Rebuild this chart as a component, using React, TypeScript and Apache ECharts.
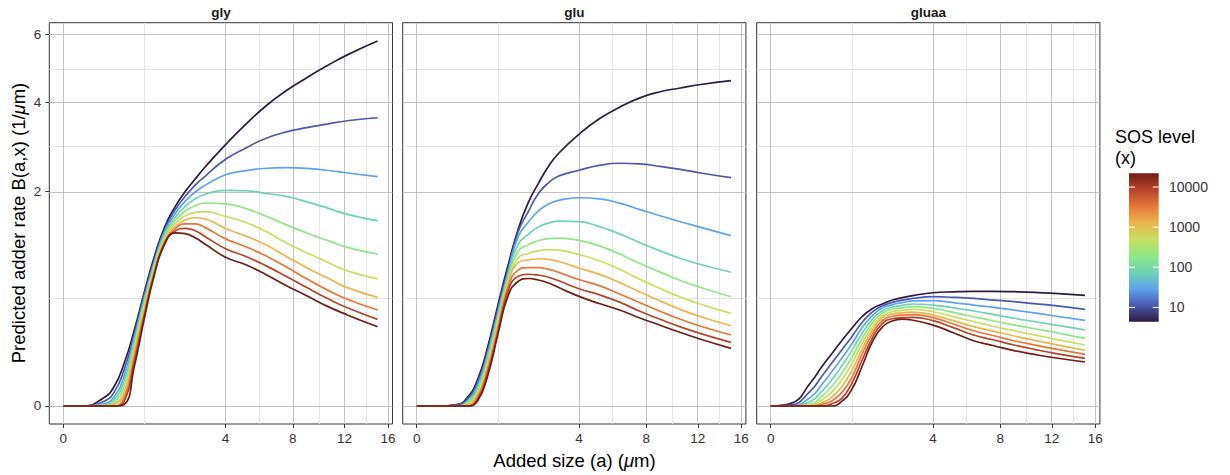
import React, { useEffect, useRef } from "react";
import * as echarts from "echarts";

const FONT = "'Liberation Sans', Arial, Helvetica, sans-serif";

const panelNames = ["gly", "glu", "gluaa"];
const addedSize = [0, 0.0625, 0.25, 0.390625, 0.5625, 0.765625, 1, 1.265625, 1.5625, 1.890625, 2.25, 2.640625, 3.0625, 4, 5.0625, 6.25, 7.5625, 9, 10.5625, 12.25, 15];
const sosLevels = [4.4, 11.3, 29.2, 75.3, 194, 500, 1290, 3320, 8560, 22000];
const curveColors = ["#2f1a40", "#4a5aad", "#5ea3ef", "#6fd3b0", "#8fe785", "#c8df60", "#ebb44c", "#e6763a", "#b5442a", "#701d14"];

const glyRates = [
  [0, 0, 0.003, 0.0161, 0.079, 0.25, 0.567, 0.98, 1.395, 1.716, 1.991, 2.235, 2.484, 2.9653, 3.4484, 3.9125, 4.3181, 4.6786, 5.0221, 5.35, 5.779],
  [0, 0, 0.0009, 0.0081, 0.0576, 0.2256, 0.54, 0.941, 1.357, 1.664, 1.904, 2.117, 2.295, 2.6406, 2.89, 3.1117, 3.2616, 3.3636, 3.4484, 3.5306, 3.6062],
  [0, 0, 0.0002, 0.0036, 0.04, 0.2025, 0.511, 0.912, 1.3225, 1.6, 1.817, 1.988, 2.117, 2.3195, 2.4025, 2.4524, 2.4649, 2.4492, 2.4118, 2.3562, 2.2831],
  [0, 0, 0.00005, 0.0016, 0.0272, 0.1806, 0.483, 0.8836, 1.288, 1.5376, 1.729, 1.863, 1.946, 2.0192, 2.0107, 1.96, 1.9044, 1.809, 1.703, 1.5926, 1.4884],
  [0, 0, 0.00001, 0.0006, 0.0169, 0.16, 0.4556, 0.8556, 1.2544, 1.4884, 1.646, 1.742, 1.788, 1.7742, 1.69, 1.5625, 1.4232, 1.2996, 1.1903, 1.092, 1.0],
  [0, 0, 0, 0.0002, 0.01, 0.1406, 0.429, 0.8281, 1.221, 1.44, 1.5675, 1.6256, 1.6384, 1.5575, 1.4617, 1.3202, 1.1513, 1.0201, 0.8987, 0.7921, 0.7006],
  [0, 0, 0, 0.0001, 0.0056, 0.1225, 0.4032, 0.801, 1.188, 1.392, 1.5006, 1.5376, 1.518, 1.3666, 1.2522, 1.1257, 0.9702, 0.8299, 0.714, 0.6084, 0.5127],
  [0, 0, 0, 0, 0.0025, 0.1024, 0.3782, 0.7832, 1.1664, 1.3572, 1.44, 1.44, 1.3806, 1.2122, 1.1004, 0.9761, 0.8372, 0.7022, 0.5852, 0.4942, 0.3994],
  [0, 0, 0, 0, 0.0009, 0.0841, 0.36, 0.7744, 1.1556, 1.3225, 1.3689, 1.334, 1.2432, 1.0733, 0.9702, 0.8519, 0.7276, 0.6084, 0.5041, 0.4186, 0.326],
  [0, 0, 0, 0, 0.0001, 0.0671, 0.3364, 0.7569, 1.1385, 1.2996, 1.2882, 1.2277, 1.1342, 0.9604, 0.8649, 0.7482, 0.6273, 0.5271, 0.433, 0.36, 0.2725],
];

const gluRates = [
  [0, 0, 0.0001, 0.0032, 0.0303, 0.1521, 0.4396, 0.8556, 1.3572, 1.7956, 2.152, 2.4964, 2.7722, 3.2041, 3.5797, 3.873, 4.121, 4.2849, 4.389, 4.4859, 4.5924],
  [0, 0, 0.0001, 0.002, 0.024, 0.1332, 0.4096, 0.81, 1.3179, 1.6384, 1.96, 2.1609, 2.2952, 2.4118, 2.5122, 2.5568, 2.544, 2.49, 2.4305, 2.3562, 2.262],
  [0, 0, 0, 0.0012, 0.0182, 0.119, 0.3782, 0.7744, 1.2432, 1.4641, 1.6512, 1.7689, 1.836, 1.8824, 1.8632, 1.7849, 1.6744, 1.57, 1.4738, 1.3853, 1.2589],
  [0, 0, 0, 0.0007, 0.0132, 0.1024, 0.3481, 0.7396, 1.1342, 1.2769, 1.3924, 1.452, 1.4835, 1.4762, 1.3971, 1.286, 1.1578, 1.0445, 0.9448, 0.8686, 0.7762],
  [0, 0, 0, 0.0004, 0.01, 0.09, 0.3249, 0.7056, 1.0404, 1.1278, 1.1881, 1.2166, 1.2232, 1.1903, 1.113, 1.002, 0.8817, 0.7779, 0.6839, 0.61, 0.5184],
  [0, 0, 0, 0.0002, 0.0072, 0.0784, 0.3025, 0.6724, 0.9506, 1.01, 1.0445, 1.0609, 1.0547, 0.994, 0.9158, 0.8118, 0.6956, 0.5991, 0.5141, 0.4489, 0.3721],
  [0, 0, 0, 0.0001, 0.0049, 0.0676, 0.2809, 0.64, 0.893, 0.9254, 0.9409, 0.9332, 0.9063, 0.8263, 0.7517, 0.6626, 0.564, 0.4789, 0.4045, 0.3457, 0.2798],
  [0, 0, 0, 0, 0.0032, 0.0576, 0.255, 0.6084, 0.801, 0.8317, 0.8317, 0.81, 0.7744, 0.6939, 0.6288, 0.5446, 0.4624, 0.3894, 0.326, 0.2756, 0.219],
  [0, 0, 0, 0, 0.002, 0.0484, 0.2352, 0.57, 0.731, 0.7534, 0.743, 0.7191, 0.6806, 0.596, 0.5373, 0.4679, 0.3894, 0.326, 0.2714, 0.2275, 0.1756],
  [0, 0, 0, 0, 0.0011, 0.04, 0.2209, 0.5256, 0.6724, 0.7056, 0.6889, 0.6561, 0.6084, 0.5213, 0.4556, 0.3994, 0.3364, 0.283, 0.2343, 0.1936, 0.1444],
];

const gluaaRates = [
  [0, 0.0003, 0.0256, 0.065, 0.1176, 0.1849, 0.2621, 0.3457, 0.4109, 0.4516, 0.4872, 0.5098, 0.5285, 0.5565, 0.5655, 0.57, 0.57, 0.567, 0.561, 0.5506, 0.5314],
  [0, 0.00005, 0.011, 0.0372, 0.079, 0.1362, 0.2088, 0.3025, 0.3819, 0.4356, 0.4665, 0.4858, 0.5027, 0.5184, 0.5127, 0.5027, 0.4872, 0.472, 0.4543, 0.4369, 0.4058],
  [0, 0, 0.0038, 0.019, 0.0502, 0.0986, 0.1665, 0.2652, 0.3528, 0.416, 0.4462, 0.4638, 0.4789, 0.4816, 0.4638, 0.4422, 0.4225, 0.3994, 0.3758, 0.3516, 0.3181],
  [0, 0, 0.0011, 0.0088, 0.0292, 0.0697, 0.1332, 0.2285, 0.3249, 0.3944, 0.4251, 0.4396, 0.4516, 0.4422, 0.4186, 0.3919, 0.3624, 0.3341, 0.3091, 0.2852, 0.251],
  [0, 0, 0.0002, 0.0038, 0.0161, 0.0462, 0.103, 0.1962, 0.2981, 0.3745, 0.4058, 0.4186, 0.4277, 0.4134, 0.3807, 0.3457, 0.3136, 0.2852, 0.2591, 0.2352, 0.1989],
  [0, 0, 0.00005, 0.0014, 0.0081, 0.0292, 0.0767, 0.1681, 0.2714, 0.3552, 0.3856, 0.3969, 0.4058, 0.3856, 0.3469, 0.3091, 0.2756, 0.246, 0.219, 0.1945, 0.1616],
  [0, 0, 0, 0.0004, 0.0032, 0.0161, 0.0543, 0.1406, 0.247, 0.3364, 0.3672, 0.377, 0.3832, 0.3588, 0.3158, 0.2735, 0.2421, 0.2125, 0.1875, 0.1648, 0.1347],
  [0, 0, 0, 0.0001, 0.0011, 0.0077, 0.0357, 0.1156, 0.2228, 0.317, 0.3493, 0.3576, 0.3624, 0.3387, 0.2916, 0.246, 0.2144, 0.1849, 0.1616, 0.1414, 0.1156],
  [0, 0, 0, 0, 0.0002, 0.0025, 0.0225, 0.09, 0.1989, 0.2948, 0.3306, 0.3387, 0.3411, 0.3158, 0.2663, 0.219, 0.1892, 0.1616, 0.1391, 0.1204, 0.0986],
  [0, 0, 0, 0, 0, 0.0009, 0.0121, 0.0676, 0.1764, 0.2704, 0.3136, 0.3272, 0.3192, 0.2841, 0.2333, 0.1849, 0.1576, 0.1332, 0.1156, 0.1011, 0.0841],
];

const xTickValues = [0, 4, 8, 12, 16];
const yTickValues = [0, 2, 4, 6];
const legendTickValues = [10, 100, 1000, 10000];

const panelRates = [glyRates, gluRates, gluaaRates];

const sq = (v: number) => Math.sqrt(v);
// minor breaks: midpoints between major breaks in transformed (sqrt) space
const minorBreaks = (ticks: number[]) => ticks.slice(1).map((t, i) => ((sq(ticks[i]) + sq(t)) / 2) ** 2);

const GRID_LEFT = [49.3, 402.7, 756.7];
const GRID_TOP = 22.7;
const GRID_W = 343.2;
const GRID_H = 401.3;
const X_MIN = -0.1726;
const X_MAX = 4.0567;
const Y_MIN = -0.1186;
const Y_MAX = 2.525;

const MAJOR_COLOR = "#c2c2c2";
const MINOR_COLOR = "#e4e4e4";
const AXIS_TEXT = "#333333";

export default function App() {
  const ref = useRef<HTMLDivElement>(null);

  useEffect(() => {
    if (!ref.current) return;
    const chart = echarts.init(ref.current, null, { renderer: "svg" });

    const xMajor = xTickValues.map(sq);
    const xMinor = minorBreaks(xTickValues).map(sq);
    const yMajor = yTickValues.map(sq);
    const yMinor = minorBreaks(yTickValues).map(sq);

    const grids = panelNames.map((_, p) => ({
      left: GRID_LEFT[p],
      top: GRID_TOP,
      width: GRID_W,
      height: GRID_H,
      show: true,
      borderColor: "#333333",
      borderWidth: 1,
      backgroundColor: "transparent",
      containLabel: false,
    }));

    const xAxes = panelNames.map((_, p) => ({
      type: "value",
      gridIndex: p,
      min: X_MIN,
      max: X_MAX,
      position: "bottom",
      axisLine: { show: false, onZero: false },
      splitLine: { show: false },
      axisTick: { show: true, length: 4, customValues: xMajor, lineStyle: { color: "#333333", width: 1 } },
      axisLabel: {
        show: true,
        customValues: xMajor,
        formatter: (v: number) => String(Math.round(v * v)),
        color: AXIS_TEXT,
        fontSize: 13.5,
        fontFamily: FONT,
        margin: 7,
      },
    }));

    const yAxes = panelNames.map((_, p) => ({
      type: "value",
      gridIndex: p,
      min: Y_MIN,
      max: Y_MAX,
      position: "left",
      axisLine: { show: false, onZero: false },
      splitLine: { show: false },
      axisTick: { show: p === 0, length: 4, customValues: yMajor, lineStyle: { color: "#333333", width: 1 } },
      axisLabel: {
        show: p === 0,
        customValues: yMajor,
        formatter: (v: number) => String(Math.round(v * v)),
        color: AXIS_TEXT,
        fontSize: 13.5,
        fontFamily: FONT,
        margin: 8,
      },
    }));

    const series: any[] = [];
    panelNames.forEach((_, p) => {
      series.push({
        type: "line",
        xAxisIndex: p,
        yAxisIndex: p,
        data: [],
        silent: true,
        z: 1,
        markLine: {
          silent: true,
          symbol: ["none", "none"],
          label: { show: false },
          z: 1,
          animation: false,
          data: [
            ...yMinor.map((v) => ({ yAxis: v, lineStyle: { color: MINOR_COLOR, width: 1, type: "solid" } })),
            ...xMinor.map((v) => ({ xAxis: v, lineStyle: { color: MINOR_COLOR, width: 1, type: "solid" } })),
            ...yMajor.map((v) => ({ yAxis: v, lineStyle: { color: MAJOR_COLOR, width: 1, type: "solid" } })),
            ...xMajor.map((v) => ({ xAxis: v, lineStyle: { color: MAJOR_COLOR, width: 1, type: "solid" } })),
          ],
        },
      });
      panelRates[p].forEach((rates, k) => {
        series.push({
          type: "line",
          name: `${panelNames[p]}-${sosLevels[k]}`,
          xAxisIndex: p,
          yAxisIndex: p,
          data: addedSize.map((a, i) => [sq(a), sq(rates[i])]),
          smooth: 0.5,
          showSymbol: false,
          symbol: "none",
          silent: true,
          z: 3,
          lineStyle: { color: curveColors[k], width: 1.7 },
        });
      });
    });

    // colour bar (log scale of SOS level)
    const barX = 1129;
    const barY = 173.3;
    const barW = 29.7;
    const barH = 148.4;
    const lmin = Math.log10(sosLevels[0]);
    const lmax = Math.log10(sosLevels[sosLevels.length - 1]);
    const frac = (v: number) => (Math.log10(v) - lmin) / (lmax - lmin);
    const stops = sosLevels.map((lv, k) => ({ offset: frac(lv), color: curveColors[k] }));

    const graphic: any[] = [];
    panelNames.forEach((name, p) => {
      graphic.push({
        type: "text",
        x: GRID_LEFT[p] + GRID_W / 2,
        y: 12,
        silent: true,
        style: {
          text: name,
          fill: "#1a1a1a",
          fontSize: 13.5,
          fontWeight: "bold",
          fontFamily: FONT,
          textAlign: "center",
          textVerticalAlign: "middle",
        },
      });
    });
    graphic.push({
      type: "text",
      x: 574.5,
      y: 460,
      silent: true,
      style: {
        text: "Added size (a) ({i|μ}m)",
        fill: "#000000",
        fontSize: 18.5,
        fontFamily: FONT,
        textAlign: "center",
        textVerticalAlign: "middle",
        rich: { i: { fontStyle: "italic", fontSize: 18.5, fontFamily: FONT, fill: "#000000" } },
      },
    });
    graphic.push({
      type: "text",
      x: 18,
      y: 223,
      rotation: Math.PI / 2,
      silent: true,
      style: {
        text: "Predicted adder rate B(a,x) (1/{i|μ}m)",
        fill: "#000000",
        fontSize: 18.5,
        fontFamily: FONT,
        textAlign: "center",
        textVerticalAlign: "middle",
        rich: { i: { fontStyle: "italic", fontSize: 18.5, fontFamily: FONT, fill: "#000000" } },
      },
    });
    graphic.push({
      type: "text",
      x: 1115,
      y: 137,
      silent: true,
      style: { text: "SOS level", fill: "#000000", fontSize: 18, fontFamily: FONT, textAlign: "left", textVerticalAlign: "middle" },
    });
    graphic.push({
      type: "text",
      x: 1115,
      y: 158,
      silent: true,
      style: { text: "(x)", fill: "#000000", fontSize: 18, fontFamily: FONT, textAlign: "left", textVerticalAlign: "middle" },
    });
    graphic.push({
      type: "rect",
      silent: true,
      shape: { x: barX, y: barY, width: barW, height: barH },
      style: { fill: new echarts.graphic.LinearGradient(0, 1, 0, 0, stops) },
    });
    legendTickValues.forEach((v) => {
      const ty = barY + barH - frac(v) * barH;
      graphic.push({
        type: "line",
        silent: true,
        shape: { x1: barX, y1: ty, x2: barX + barW / 5, y2: ty },
        style: { stroke: "#ffffff", lineWidth: 1 },
      });
      graphic.push({
        type: "line",
        silent: true,
        shape: { x1: barX + barW - barW / 5, y1: ty, x2: barX + barW, y2: ty },
        style: { stroke: "#ffffff", lineWidth: 1 },
      });
      graphic.push({
        type: "text",
        x: 1169,
        y: ty,
        silent: true,
        style: { text: String(v), fill: AXIS_TEXT, fontSize: 14, fontFamily: FONT, textAlign: "left", textVerticalAlign: "middle" },
      });
    });

    chart.setOption({
      animation: false,
      backgroundColor: "#ffffff",
      textStyle: { fontFamily: FONT },
      grid: grids,
      xAxis: xAxes,
      yAxis: yAxes,
      series,
      graphic,
    });

    return () => {
      chart.dispose();
    };
  }, []);

  return <div ref={ref} style={{ position: "fixed", left: 0, top: 0, width: 1230, height: 475 }} />;
}
